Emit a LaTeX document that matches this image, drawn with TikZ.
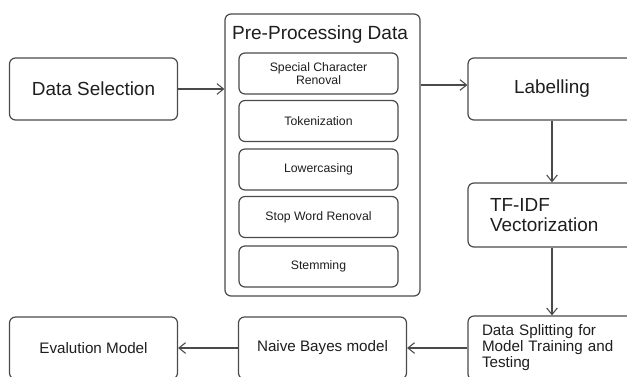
\documentclass[tikz,border=0pt]{standalone}
\usepackage{fontspec}
\setmainfont{Liberation Sans}
\usetikzlibrary{arrows.meta}
\definecolor{linec}{HTML}{4A4A4A}
\definecolor{txtc}{HTML}{1E1E1E}
\tikzset{
  box/.style={draw=linec, line width=0.9pt, rounded corners=4.5pt, text=txtc, align=center, inner sep=0pt},
  bigbox/.style={box, minimum width=126pt, minimum height=46.5pt, font=\fontsize{14.2}{16}\selectfont},
  midbox/.style={box, minimum width=126pt, minimum height=46.5pt, font=\fontsize{11.4}{12.5}\selectfont},
  subbox/.style={box, minimum width=119.25pt, minimum height=30.75pt, font=\fontsize{9.2}{10}\selectfont},
  conn/.style={draw=linec, line width=0.8pt, -{Straight Barb[length=5pt,width=8pt,line width=0.8pt]}}
}
\begin{document}
\begin{tikzpicture}[x=0.75pt,y=-0.75pt]
\useasboundingbox (0,0) rectangle (627,376);
\clip (0,0) rectangle (627,376);
\fill[white] (0,0) rectangle (627,376);
% left column
\node[bigbox] (ds) at (93.5,89) {Data Selection};
\node[midbox] (ev) at (93.5,348) {Evalution Model};
% pre-processing
\node[box, minimum width=146.25pt, minimum height=211.5pt] (pp) at (322.5,155) {};
\node[text=txtc, inner sep=0pt, font=\fontsize{14.3}{16}\selectfont] (ppt) at (320,35) {Pre-Processing Data};
\node[subbox] (s1) at (318.5,73.5) {Special Character\\Renoval};
\node[subbox] (s2) at (318.5,121) {Tokenization};
\node[subbox] (s3) at (318.5,169.5) {Lowercasing};
\node[subbox] (s4) at (318.5,217) {Stop Word Renoval};
\node[subbox] (s5) at (318.5,266.5) {Stemming};
\node[midbox] (nb) at (322.5,348) {Naive Bayes model};
% right column
\node[bigbox] (lab) at (552,89) {Labelling};
\node[box, minimum width=126pt, minimum height=48pt, text width=93pt, align=left, inner xsep=16.5pt, font=\fontsize{14.2}{15.5}\selectfont] (tf) at (552,215) {TF-IDF\\Vectorization};
\node[box, minimum width=126pt, minimum height=48pt, text width=105pt, align=left, inner xsep=10.5pt, font=\fontsize{11.4}{12}\selectfont] (sp) at (552,348) {Data Splitting for\\Model Training and\\Testing};
% connectors
\draw[conn] (ds.east) -- (ds.east -| pp.west);
\draw[conn] (pp.east |- 0,85) -- (lab.west |- 0,85);
\draw[conn] (lab.south) -- (tf.north);
\draw[conn] (tf.south) -- (sp.north);
\draw[conn] (sp.west) -- (nb.east);
\draw[conn] (nb.west) -- (ev.east);
\end{tikzpicture}
\end{document}
